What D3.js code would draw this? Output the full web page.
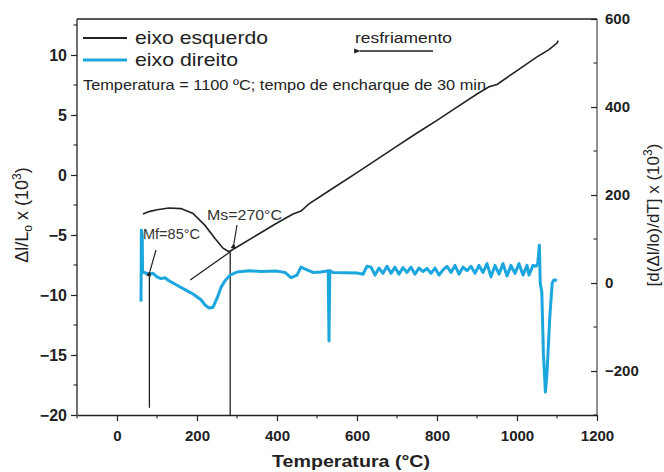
<!DOCTYPE html>
<html>
<head>
<meta charset="utf-8">
<script src="https://cdn.jsdelivr.net/npm/d3@7"></script>
<style>
  body { margin: 0; background: #fff; }
  svg { font-family: "Liberation Sans", Arial, sans-serif; }
</style>
</head>
<body>
<div id="chart"></div>
<script>
// ---- data ----
var xTicks = [0, 200, 400, 600, 800, 1000, 1200];
var leftTicks = [-20, -15, -10, -5, 0, 5, 10];
var rightTicks = [-200, 0, 200, 400, 600];

// black curve, left axis (dl/L0 x 10^3)
var blackTemp = [65, 80, 100, 130, 160, 190, 220, 245, 265, 280, 300, 350, 400, 440, 460, 480, 533, 600, 650, 700, 750, 800, 850, 900, 930, 950, 1000, 1050, 1080, 1100, 1103];
var blackVal  = [-3.25, -3.05, -2.9, -2.75, -2.8, -3.2, -4.2, -5.3, -6.1, -6.4, -6.0, -5.0, -4.0, -3.25, -3.0, -2.4, -1.25, 0.2, 1.3, 2.4, 3.5, 4.55, 5.65, 6.75, 7.35, 7.55, 8.7, 9.85, 10.45, 11.0, 11.2];

// blue curve, right axis (d(dl/lo)/dT x 10^3)
var blueTemp = [60, 61, 63, 64, 80, 90, 100, 110, 120, 130, 150, 170, 190, 210, 220, 230, 240, 250, 260, 270, 283, 300, 330, 360, 400, 420, 435, 450, 460, 475, 490, 510, 528, 530, 532, 540, 600, 615, 625, 635, 645, 655, 665, 675, 685, 695, 705, 715, 725, 735, 745, 755, 765, 775, 785, 795, 805, 815, 825, 835, 845, 855, 865, 875, 885, 895, 905, 915, 925, 935, 945, 955, 965, 975, 985, 995, 1005, 1015, 1025, 1030, 1040, 1048, 1052, 1056, 1058, 1062, 1066, 1071, 1075, 1082, 1088, 1092, 1100];
var blueVal  = [-42, 120, 110, 25, 20, 22, 14, 10, 12, 5, -5, -15, -25, -38, -50, -57, -55, -35, -10, 5, 18, 25, 28, 26, 27, 24, 12, 18, 36, 30, 24, 25, 28, -132, 28, 24, 23, 20, 38, 36, 18, 34, 22, 38, 22, 36, 20, 35, 24, 36, 20, 34, 26, 33, 22, 34, 18, 30, 38, 24, 40, 20, 36, 28, 38, 22, 40, 24, 44, 14, 40, 20, 44, 16, 40, 22, 44, 18, 40, 18, 40, 38, 45, 86, 0, -20, -160, -248, -205, -77, 0, 7, 6];

// annotation lines (temperature, left-axis value)
var tangentLine = [[183, -8.75], [283, -6.4]];
var mfLine = [[81, -19.4], [81, -8.3]];
var msLine = [[283, -20], [283, -6.35]];

// ---- drawing ----
var W = 664, H = 472;
var mLeft = 77, mRight = 597, mTop = 19, mBottom = 415;

var svg = d3.select("#chart").append("svg")
  .attr("width", W)
  .attr("height", H);

var x = d3.scaleLinear().domain([-100, 1200]).range([mLeft, mRight]);
var yL = d3.scaleLinear().domain([-20, 13]).range([mBottom, mTop]);
var yR = d3.scaleLinear().domain([-300, 600]).range([mBottom, mTop]);

// frame top
svg.append("line")
  .attr("x1", mLeft).attr("x2", mRight)
  .attr("y1", mTop).attr("y2", mTop)
  .attr("stroke", "#222").attr("stroke-width", 1.3);

// minor ticks
var gMinor = svg.append("g").attr("stroke", "#333").attr("stroke-width", 1.2);
d3.range(-100, 1201, 200).forEach(function(t) {
  gMinor.append("line").attr("x1", x(t)).attr("x2", x(t)).attr("y1", mBottom).attr("y2", mBottom + 3.5);
});
d3.range(-17.5, 13, 5).forEach(function(v) {
  gMinor.append("line").attr("x1", mLeft).attr("x2", mLeft - 3.5).attr("y1", yL(v)).attr("y2", yL(v));
});
d3.range(-300, 600, 200).forEach(function(v) {
  gMinor.append("line").attr("x1", mRight).attr("x2", mRight - 3.5).attr("y1", yR(v)).attr("y2", yR(v));
});

// axes
var fmt = d3.format("d");
var xAxis = svg.append("g")
  .attr("transform", "translate(0," + mBottom + ")")
  .call(d3.axisBottom(x).tickValues(xTicks).tickFormat(fmt).tickSize(6).tickSizeOuter(0).tickPadding(9));
var lAxis = svg.append("g")
  .attr("transform", "translate(" + mLeft + ",0)")
  .call(d3.axisLeft(yL).tickValues(leftTicks).tickFormat(fmt).tickSize(6).tickSizeOuter(0).tickPadding(4));
var rAxis = svg.append("g")
  .attr("transform", "translate(" + mRight + ",0)")
  .call(d3.axisRight(yR).tickValues(rightTicks).tickFormat(fmt).tickSize(-6).tickSizeOuter(0).tickPadding(8));

[xAxis, lAxis, rAxis].forEach(function(a) {
  a.select(".domain").attr("stroke", "#222").attr("stroke-width", 1.3);
  a.selectAll(".tick line").attr("stroke", "#222").attr("stroke-width", 1.2);
  a.selectAll("text")
    .attr("fill", "#222")
    .style("font-size", "15px")
    .style("font-weight", "bold");
});
lAxis.selectAll("text").style("font-size", "16px");
rAxis.select(".domain").attr("stroke", "#555");

// extend domain lines so the frame closes
lAxis.select(".domain").attr("d", "M0," + mTop + "V" + mBottom);
rAxis.select(".domain").attr("d", "M0," + mTop + "V" + mBottom);

// annotation lines
var lineL = d3.line().x(function(d) { return x(d[0]); }).y(function(d) { return yL(d[1]); });
[tangentLine, mfLine, msLine].forEach(function(seg) {
  svg.append("path").attr("d", lineL(seg))
    .attr("fill", "none").attr("stroke", "#222").attr("stroke-width", 1.3);
});

// blue curve
var blueLine = d3.line()
  .x(function(d, i) { return x(blueTemp[i]); })
  .y(function(d) { return yR(d); });
svg.append("path")
  .attr("d", blueLine(blueVal))
  .attr("fill", "none")
  .attr("stroke", "#1ca6de")
  .attr("stroke-width", 3)
  .attr("stroke-linejoin", "round");

// black curve
var blackLine = d3.line()
  .x(function(d, i) { return x(blackTemp[i]); })
  .y(function(d) { return yL(d); });
svg.append("path")
  .attr("d", blackLine(blackVal))
  .attr("fill", "none")
  .attr("stroke", "#222")
  .attr("stroke-width", 1.6);

// text helper: stretched like the source figure
function label(px, py, size, str, len, color) {
  var t = svg.append("text").attr("x", px).attr("y", py)
    .style("font-size", size + "px").attr("fill", color || "#222").text(str);
  if (len) t.attr("textLength", len).attr("lengthAdjust", "spacingAndGlyphs");
  return t;
}

// legend
svg.append("line").attr("x1", 83).attr("x2", 127).attr("y1", 38).attr("y2", 38)
  .attr("stroke", "#222").attr("stroke-width", 2);
svg.append("line").attr("x1", 83).attr("x2", 127).attr("y1", 60).attr("y2", 60)
  .attr("stroke", "#1ca6de").attr("stroke-width", 3);
label(135, 44, 19, "eixo esquerdo", 133);
label(135, 66, 19, "eixo direito", 103);

label(83, 90, 14, "Temperatura = 1100 ºC; tempo de encharque de 30 min", 403);

// resfriamento arrow
label(355, 43, 15, "resfriamento", 97);
svg.append("defs").append("marker")
  .attr("id", "head").attr("viewBox", "0 0 10 10").attr("refX", 1).attr("refY", 5)
  .attr("markerWidth", 6).attr("markerHeight", 5).attr("orient", "auto")
  .append("path").attr("d", "M10,1L0,5L10,9Z").attr("fill", "#222");
svg.append("line").attr("x1", 433).attr("x2", 360).attr("y1", 51).attr("y2", 51)
  .attr("stroke", "#222").attr("stroke-width", 1.3).attr("marker-end", "url(#head)");

// Mf / Ms labels
label(143, 239, 14, "Mf=85°C", 57, "#333");
label(207, 220, 14, "Ms=270°C", 75, "#333");
svg.append("line").attr("x1", 156).attr("y1", 250).attr("x2", 150).attr("y2", 271)
  .attr("stroke", "#222").attr("stroke-width", 1.2).attr("marker-end", "url(#head)");
svg.append("line").attr("x1", 237).attr("y1", 225).attr("x2", 234).attr("y2", 243)
  .attr("stroke", "#222").attr("stroke-width", 1.2).attr("marker-end", "url(#head)");

// axis titles
svg.append("text")
  .attr("x", 272).attr("y", 467)
  .attr("textLength", 158).attr("lengthAdjust", "spacingAndGlyphs")
  .style("font-size", "17px").style("font-weight", "bold").attr("fill", "#222")
  .text("Temperatura (°C)");

var yl = svg.append("text")
  .attr("transform", "translate(28,215) rotate(-90)")
  .attr("text-anchor", "middle")
  .style("font-size", "18px").attr("fill", "#222");
yl.append("tspan").text("Δl/L");
yl.append("tspan").attr("dy", 4).style("font-size", "12px").text("o");
yl.append("tspan").attr("dy", -4).text(" x (10");
yl.append("tspan").attr("dy", -7).style("font-size", "12px").text("3");
yl.append("tspan").attr("dy", 7).text(")");

var yr = svg.append("text")
  .attr("transform", "translate(659,215) rotate(-90)")
  .attr("text-anchor", "middle")
  .style("font-size", "17px").attr("fill", "#222");
yr.append("tspan").text("[d(Δl/lo)/dT] x (10");
yr.append("tspan").attr("dy", -7).style("font-size", "12px").text("3");
yr.append("tspan").attr("dy", 7).text(")");
</script>
</body>
</html>
